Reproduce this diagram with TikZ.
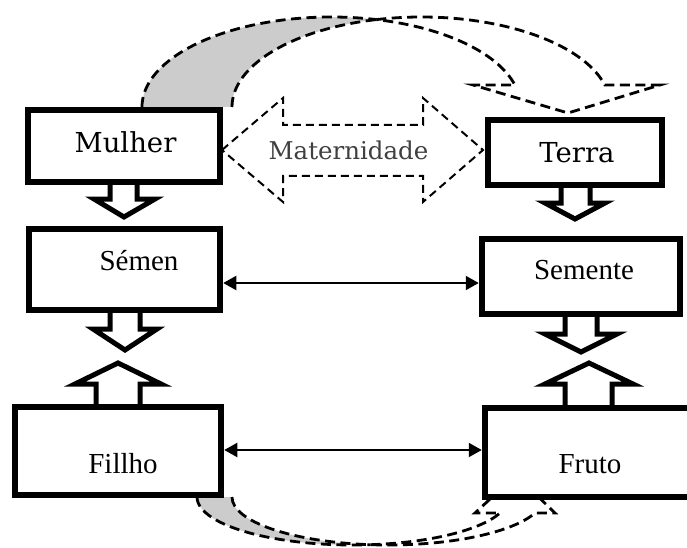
\documentclass[tikz,border=0pt]{standalone}
\usepackage{fontspec}
\setmainfont{Liberation Serif}
\newfontfamily\dvs{DejaVu Serif}
\usetikzlibrary{arrows.meta}
\begin{document}
\begin{tikzpicture}[x=1pt,y=1pt,
  box/.style={draw, line width=6.5pt, fill=white, rectangle, inner sep=0pt},
  blk/.style={draw, line width=5pt, fill=white, line join=miter, miter limit=10},
  dsh/.style={dash pattern=on 10pt off 5.5pt, line width=2.8pt},
  backfill/.style={fill=black!20},
  lbl/.style={font=\fontsize{29}{34}\selectfont, inner sep=0pt, anchor=base},
  lblb/.style={font=\dvs\fontsize{27.5}{32}\selectfont, inner sep=0pt, anchor=base},
  link/.style={line width=2pt, {Triangle[length=13pt,width=14pt]}-{Triangle[length=13pt,width=14pt]}},
  arcA/.style={x radius=189.3pt, y radius=90pt},
  arcB/.style={x radius=156pt, y radius=48pt}
]
\useasboundingbox (0,0) rectangle (687,547);
\clip (0,0) rectangle (687,547);

% ---- top curved arrow (Mulher -> Terra)
\fill[backfill] (142,440) arc[start angle=180, end angle=76.25, arcA]
                 arc[start angle=103.75, end angle=180, arcA] -- cycle;
\draw[dsh] (142,440) arc[start angle=180, end angle=76.25, arcA];
\draw[dsh] (232,440) arc[start angle=180, end angle=103.75, arcA];
\draw[dsh, fill=white] (376.3,527.4) arc[start angle=103.75, end angle=14.15, arcA]
   -- (660,462) -- (568,434) -- (473,462) -- (514.9,462)
   arc[start angle=14.15, end angle=76.25, arcA] -- cycle;

% ---- bottom curved arrow (Fillho -> Fruto)
\fill[backfill] (197,50) arc[start angle=180, end angle=276.4, arcB]
                 arc[start angle=263.6, end angle=180, arcB] -- cycle;
\draw[dsh] (197,50) arc[start angle=180, end angle=276.4, arcB];
\draw[dsh] (232,50) arc[start angle=180, end angle=263.6, arcB];
\draw[dsh, fill=white] (370.4,2.3) arc[start angle=276.4, end angle=340.5, arcB]
   -- (475,34) -- (516,72) -- (555,34) -- (535,34)
   arc[start angle=340.5, end angle=263.6, arcB] -- cycle;

% ---- Maternidade double arrow
\draw[line width=2pt, dash pattern=on 8pt off 5pt]
  (222,397) -- (283,449) -- (283,422) -- (423,422) -- (423,449) -- (483,397)
  -- (423,345) -- (423,371) -- (283,371) -- (283,345) -- cycle;
\node[font=\dvs\fontsize{24.5}{29}\selectfont, text=black!75, inner sep=0pt, anchor=base] (mat) at (348.5,387) {Maternidade};

% ---- block arrows
\draw[blk] (110,365) -- (110,348) -- (94,348) -- (124,330) -- (155,348) -- (137,348) -- (137,365);
\draw[blk] (110,237) -- (110,218) -- (93,218) -- (125,197) -- (157,218) -- (140,218) -- (140,237);
\draw[blk] (96,140) -- (96,163) -- (75,163) -- (118,184) -- (161,163) -- (140,163) -- (140,140);
\draw[blk] (561,362) -- (561,344) -- (545,344) -- (575,328) -- (605,344) -- (590,344) -- (590,362);
\draw[blk] (565,233) -- (565,213) -- (545,213) -- (581,195) -- (617,213) -- (597,213) -- (597,233);
\draw[blk] (565,139) -- (565,163) -- (545,163) -- (589,184) -- (633,163) -- (612,163) -- (612,139);

% ---- boxes
\node[box, minimum width=192pt, minimum height=72pt] (mulher) at (124,401) {};
\node[box, minimum width=191pt, minimum height=81pt] (semen) at (124.5,277.5) {};
\node[box, minimum width=206pt, minimum height=88pt] (fillho) at (118,96) {};
\node[box, minimum width=174pt, minimum height=65pt] (terra) at (575,394.5) {};
\node[box, minimum width=198pt, minimum height=75pt] (semente) at (581,270.5) {};
\node[box, minimum width=220pt, minimum height=89pt] (fruto) at (595,94.5) {};

% ---- labels
\node[lblb] (tmulher) at (125.5,394) {Mulher};
\node[lblb] (tterra) at (577,384) {Terra};
\node[lbl] (tsemen) at (139,277) {Sémen};
\node[lbl] (tsemente) at (584,268) {Semente};
\node[lbl] (tfillho) at (123,74) {Fillho};
\node[lbl] (tfruto) at (590,74) {Fruto};

% ---- connectors
\coordinate (h1) at (0,264);
\coordinate (h2) at (0,97);
\draw[link] (semen.east |- h1) -- (semente.west |- h1);
\draw[link] (fillho.east |- h2) -- (fruto.west |- h2);
\end{tikzpicture}
\end{document}
